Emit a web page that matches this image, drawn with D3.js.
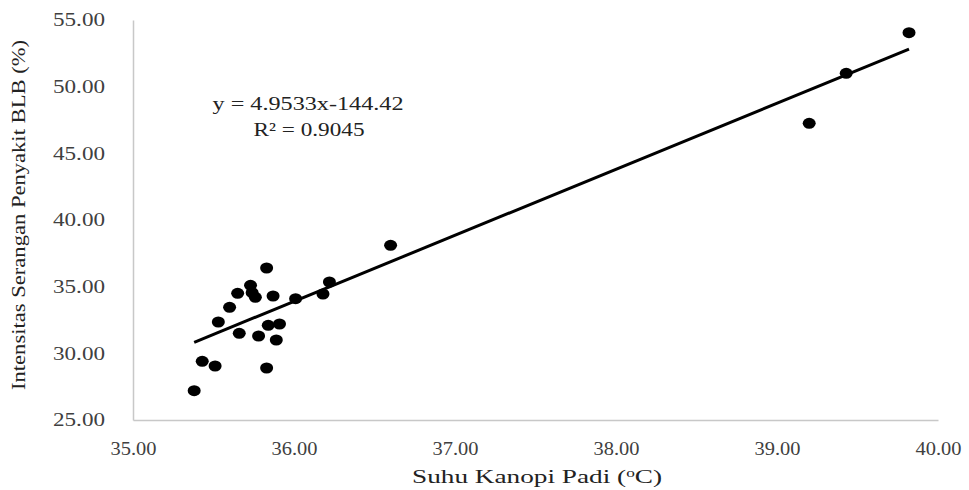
<!DOCTYPE html>
<html>
<head>
<meta charset="utf-8">
<script src="https://cdn.jsdelivr.net/npm/d3@7"></script>
<style>
  body { margin: 0; background: #fff; }
  svg { display: block; }
  text { font-family: "Liberation Serif", "Times New Roman", serif; }
</style>
</head>
<body>
<svg width="969" height="490"></svg>
<script>
// suhu kanopi (x) vs intensitas serangan BLB (y)
let suhu = [35.38, 35.43, 35.51, 35.53, 35.60, 35.66, 35.65, 35.73, 35.74, 35.76,
            35.78, 35.83, 35.83, 35.84, 35.87, 35.89, 35.91, 36.01, 36.18, 36.22,
            36.60, 39.20, 39.43, 39.82];
let intensitas = [27.2, 29.4, 29.05, 32.35, 33.45, 31.5, 34.5, 35.1, 34.55, 34.2,
                  31.3, 36.4, 28.9, 32.1, 34.3, 31.0, 32.2, 34.1, 34.45, 35.35,
                  38.1, 47.25, 51.0, 54.05];
let xTicks = [35, 36, 37, 38, 39, 40];
let yTicks = [25, 30, 35, 40, 45, 50, 55];
let slope = 4.9533, intercept = -144.42;
let eqText = "y = 4.9533x-144.42";
let r2Text = "R² = 0.9045";

let margin = {left: 133, right: 31, top: 20, bottom: 70};
let width = 969 - margin.left - margin.right,
    height = 490 - margin.top - margin.bottom;

var svg = d3.select("svg");
var g = svg.append("g")
    .attr("transform", `translate(${margin.left},${margin.top})`);

var x = d3.scaleLinear().domain([35, 40]).range([0, width]);
var y = d3.scaleLinear().domain([25, 55]).range([height, 0]);

// sumbu x
var xAxis = g.append("g")
    .attr("transform", `translate(0,${height})`)
    .call(d3.axisBottom(x).tickValues(xTicks).tickSize(0).tickPadding(22)
        .tickFormat(d3.format(".2f")));
xAxis.select(".domain").attr("stroke", "#c8c8c8").attr("stroke-width", 1.5);
xAxis.selectAll("text")
    .attr("font-size", 18)
    .attr("fill", "#404040")
    .attr("textLength", 46)
    .attr("lengthAdjust", "spacingAndGlyphs");

// sumbu y
var yAxis = g.append("g")
    .call(d3.axisLeft(y).tickValues(yTicks).tickSize(0).tickPadding(28)
        .tickFormat(d3.format(".2f")));
yAxis.select(".domain").attr("stroke", "#c8c8c8").attr("stroke-width", 1.5);
yAxis.selectAll("text")
    .attr("font-size", 18)
    .attr("fill", "#404040")
    .attr("textLength", 52)
    .attr("lengthAdjust", "spacingAndGlyphs");

// garis tren
let xMin = d3.min(suhu), xMax = d3.max(suhu);
g.append("line")
    .attr("x1", x(xMin)).attr("y1", y(slope * xMin + intercept))
    .attr("x2", x(xMax)).attr("y2", y(slope * xMax + intercept))
    .attr("stroke", "#000")
    .attr("stroke-width", 3);

// titik
g.selectAll("ellipse")
    .data(suhu.map((d, i) => [d, intensitas[i]]))
    .enter()
    .append("ellipse")
    .attr("cx", d => x(d[0]))
    .attr("cy", d => y(d[1]))
    .attr("rx", 6.5)
    .attr("ry", 5.5)
    .attr("fill", "#000");

// persamaan
svg.append("text")
    .attr("x", 308).attr("y", 110)
    .attr("text-anchor", "middle")
    .attr("font-size", 19)
    .attr("fill", "#222")
    .attr("textLength", 191)
    .attr("lengthAdjust", "spacingAndGlyphs")
    .text(eqText);
svg.append("text")
    .attr("x", 309).attr("y", 136)
    .attr("text-anchor", "middle")
    .attr("font-size", 19)
    .attr("fill", "#222")
    .attr("textLength", 111)
    .attr("lengthAdjust", "spacingAndGlyphs")
    .text(r2Text);

// judul sumbu
var xt = svg.append("text")
    .attr("x", 537).attr("y", 483)
    .attr("text-anchor", "middle")
    .attr("font-size", 19)
    .attr("fill", "#222")
    .attr("textLength", 250)
    .attr("lengthAdjust", "spacingAndGlyphs");
xt.append("tspan").text("Suhu Kanopi Padi (");
xt.append("tspan").attr("font-size", 12).attr("dy", -6).text("o");
xt.append("tspan").attr("dy", 6).text("C)");

svg.append("text")
    .attr("transform", "translate(25,215) rotate(-90)")
    .attr("text-anchor", "middle")
    .attr("font-size", 19)
    .attr("fill", "#222")
    .attr("textLength", 350)
    .attr("lengthAdjust", "spacingAndGlyphs")
    .text("Intensitas Serangan Penyakit BLB  (%)");
</script>
</body>
</html>
